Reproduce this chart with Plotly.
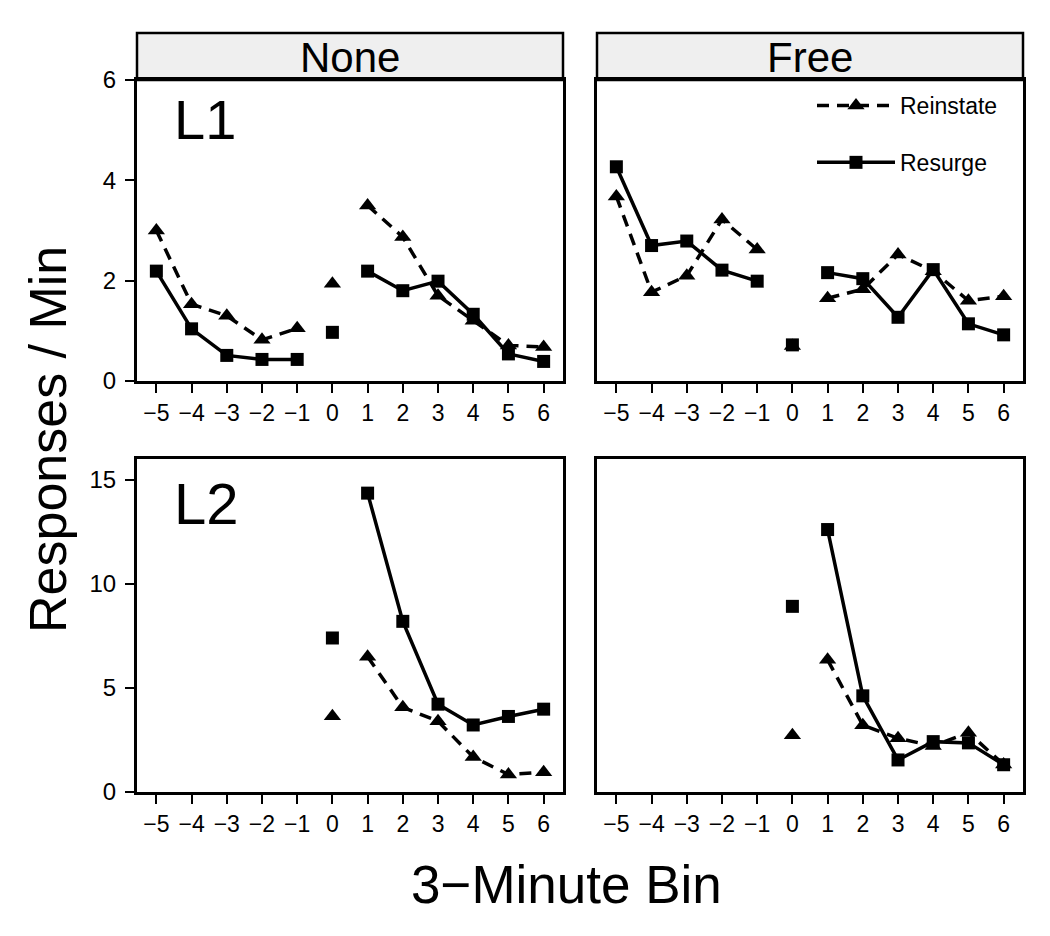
import plotly.graph_objects as go

# ---------------- data ----------------
bins = [-5, -4, -3, -2, -1, 0, 1, 2, 3, 4, 5, 6]

none_L1_reinstate = [3.00, 1.53, 1.30, 0.82, 1.05, 1.94, 3.50, 2.87, 1.70, 1.20, 0.71, 0.68]
none_L1_resurge   = [2.19, 1.04, 0.51, 0.43, 0.43, 0.97, 2.19, 1.80, 1.99, 1.33, 0.54, 0.39]
free_L1_reinstate = [3.68, 1.77, 2.10, 3.22, 2.62, 0.70, 1.65, 1.83, 2.52, 2.19, 1.60, 1.69]
free_L1_resurge   = [4.27, 2.70, 2.79, 2.21, 1.99, 0.72, 2.16, 2.04, 1.27, 2.22, 1.14, 0.92]
none_L2_reinstate = [None, None, None, None, None, 3.64, 6.50, 4.07, 3.40, 1.68, 0.84, 0.95]
none_L2_resurge   = [None, None, None, None, None, 7.40, 14.36, 8.20, 4.22, 3.22, 3.63, 3.98]
free_L2_reinstate = [None, None, None, None, None, 2.73, 6.35, 3.21, 2.58, 2.21, 2.85, 1.32]
free_L2_resurge   = [None, None, None, None, None, 8.92, 12.61, 4.62, 1.54, 2.42, 2.36, 1.31]

conditions = ["None", "Free"]
levers = ["L1", "L2"]
series_names = ["Reinstate", "Resurge"]
tick_labels = [str(b).replace("-", "\u2212") for b in bins]
y_ticks_L1 = [0, 2, 4, 6]
y_ticks_L2 = [0, 5, 10, 15]

panels = {
    ("None", "L1"): (none_L1_reinstate, none_L1_resurge),
    ("Free", "L1"): (free_L1_reinstate, free_L1_resurge),
    ("None", "L2"): (none_L2_reinstate, none_L2_resurge),
    ("Free", "L2"): (free_L2_reinstate, free_L2_resurge),
}

# ---------------- layout geometry ----------------
W, H = 1050, 936
FONT = "Liberation Sans, Arial, Helvetica, sans-serif"
col_dom = {"None": [137 / W, 563 / W], "Free": [597 / W, 1023 / W]}
row_dom = {"L1": [(H - 381) / H, (H - 80) / H], "L2": [(H - 792) / H, (H - 459) / H]}
y_range = {"L1": [0, 6], "L2": [0, 16]}
y_ticks = {"L1": y_ticks_L1, "L2": y_ticks_L2}

styles = {
    "Reinstate": dict(symbol="triangle-up", size=15, dash="12px,8px"),
    "Resurge": dict(symbol="square", size=13, dash="solid"),
}

fig = go.Figure()
axis_idx = {("None", "L1"): 1, ("Free", "L1"): 2, ("None", "L2"): 3, ("Free", "L2"): 4}

for (cond, lev), vals in panels.items():
    k = axis_idx[(cond, lev)]
    xa = "x" if k == 1 else f"x{k}"
    ya = "y" if k == 1 else f"y{k}"
    for name, yv in zip(series_names, vals):
        st = styles[name]
        segments = [
            [(b, v) for b, v in zip(bins, yv) if b < 0 and v is not None],
            [(b, v) for b, v in zip(bins, yv) if b == 0 and v is not None],
            [(b, v) for b, v in zip(bins, yv) if b > 0 and v is not None],
        ]
        for si, seg in enumerate(segments):
            if not seg:
                continue
            show = (cond == "Free" and lev == "L1" and si == 2)
            fig.add_trace(go.Scatter(
                x=[p[0] for p in seg], y=[p[1] for p in seg],
                mode="lines+markers" if len(seg) > 1 else "markers",
                name=name, legendgroup=name, showlegend=show,
                line=dict(color="black", width=3.5, dash=st["dash"]),
                marker=dict(symbol=st["symbol"], size=st["size"], color="black",
                            line=dict(width=0)),
                xaxis=xa, yaxis=ya, cliponaxis=False,
            ))

layout = {}
for (cond, lev), k in axis_idx.items():
    sfx = "" if k == 1 else str(k)
    left = cond == "None"
    layout[f"xaxis{sfx}"] = dict(
        domain=col_dom[cond], anchor="y" if k == 1 else f"y{k}",
        range=[-5.55, 6.55], tickvals=bins, ticktext=tick_labels,
        ticks="outside", ticklen=9, tickwidth=1.5, tickcolor="black",
        tickfont=dict(size=23, family=FONT, color="black"),
        showline=True, mirror=True, linewidth=3, linecolor="black",
        showgrid=False, zeroline=False, fixedrange=True, automargin=False,
    )
    layout[f"yaxis{sfx}"] = dict(
        domain=row_dom[lev], anchor="x" if k == 1 else f"x{k}",
        range=y_range[lev], tickvals=y_ticks[lev],
        ticks="outside" if left else "", ticklen=9, tickwidth=1.5, tickcolor="black",
        showticklabels=left, ticklabelstandoff=4,
        tickfont=dict(size=24, family=FONT, color="black"),
        showline=True, mirror=True, linewidth=3, linecolor="black",
        showgrid=False, zeroline=False, fixedrange=True, automargin=False,
    )

shapes = []
annotations = []
for cond in conditions:
    d = col_dom[cond]
    shapes.append(dict(type="rect", xref="paper", yref="paper",
                       x0=d[0], x1=d[1], y0=(H - 80) / H, y1=(H - 33) / H,
                       fillcolor="#efefef", line=dict(color="black", width=2.5), layer="below"))
    annotations.append(dict(text=cond, xref="paper", yref="paper",
                            x=(d[0] + d[1]) / 2, y=(H - 57) / H, xanchor="center", yanchor="middle",
                            showarrow=False, font=dict(size=42, family=FONT, color="black")))

annotations.append(dict(text=levers[0], xref="paper", yref="paper", x=172 / W, y=(H - 120) / H,
                        xanchor="left", yanchor="middle", showarrow=False,
                        font=dict(size=56, family=FONT, color="black")))
annotations.append(dict(text=levers[1], xref="paper", yref="paper", x=172 / W, y=(H - 503) / H,
                        xanchor="left", yanchor="middle", showarrow=False,
                        font=dict(size=58, family=FONT, color="black")))
annotations.append(dict(text="3\u2212Minute Bin", xref="paper", yref="paper", x=566 / W, y=(H - 884) / H,
                        xanchor="center", yanchor="middle", showarrow=False,
                        font=dict(size=53, family=FONT, color="black")))
annotations.append(dict(text="Responses / Min", xref="paper", yref="paper", x=48 / W, y=(H - 440) / H,
                        xanchor="center", yanchor="middle", textangle=-90, showarrow=False,
                        font=dict(size=52, family=FONT, color="black")))

fig.update_layout(
    **layout,
    width=W, height=H,
    margin=dict(l=0, r=0, t=0, b=0, pad=0, autoexpand=False),
    paper_bgcolor="white", plot_bgcolor="white",
    shapes=shapes, annotations=annotations,
    showlegend=True,
    legend=dict(x=812 / W, y=(H - 84) / H, xanchor="left", yanchor="top",
                bgcolor="rgba(0,0,0,0)", borderwidth=0,
                font=dict(size=23, family=FONT, color="black"),
                tracegroupgap=24, itemwidth=78, traceorder="grouped"),
)

pin_to_corner = (
    "document.documentElement.style.margin='0';"
    "document.body.style.margin='0';"
    "document.body.style.overflow='hidden';"
    "var gd=document.getElementById('{plot_id}');"
    "gd.style.position='fixed';gd.style.left='0px';gd.style.top='0px';"
)
fig.write_html("out.html", config={"displayModeBar": False}, post_script=pin_to_corner)
